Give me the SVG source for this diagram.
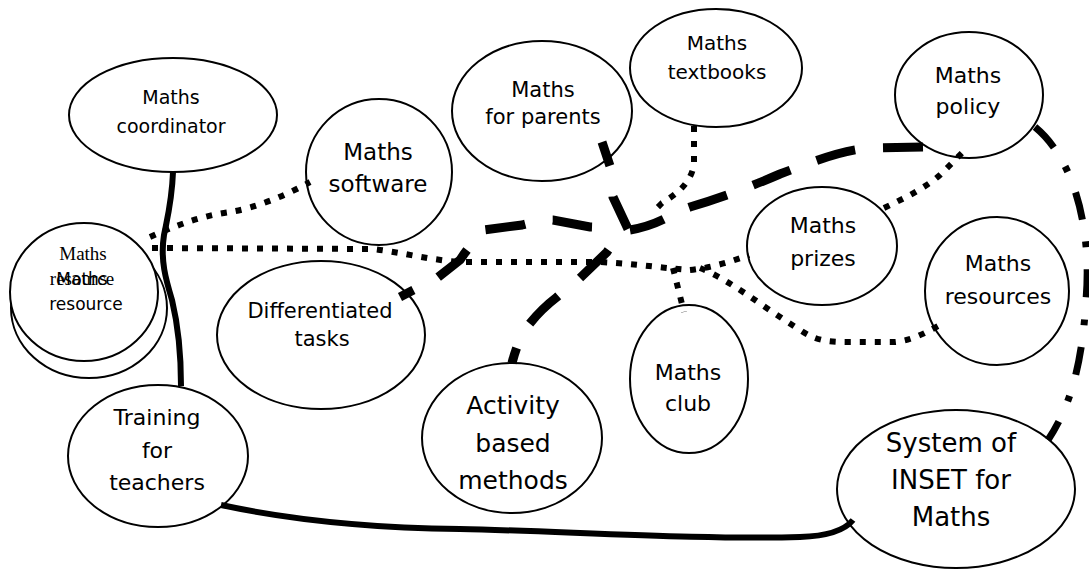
<svg xmlns="http://www.w3.org/2000/svg" width="1089" height="571" viewBox="0 0 1089 571">
<style>
.n{fill:#fff;stroke:#000;stroke-width:2}
.t{font-family:"DejaVu Sans","Noto Sans",sans-serif;text-anchor:middle;fill:#000}
.s{font-family:"Liberation Serif","DejaVu Serif",serif;text-anchor:middle;fill:#000}
.c{fill:none;stroke:#000}
.solid{stroke-width:6}
.dot{stroke-width:6;stroke-dasharray:6 9}
.dash{stroke-width:9;stroke-dasharray:40 28}
.dd{stroke-width:7;stroke-dasharray:28 22 6 22}
</style>
<rect width="1089" height="571" fill="#fff"/>
<g id="resource-stack">
<ellipse class="n" cx="89" cy="308" rx="78" ry="70"/>
<ellipse class="n" cx="84" cy="292" rx="74" ry="69"/>
<text class="s" x="83" y="260" font-size="19">Maths</text>
<text class="s" x="82" y="285" font-size="19">resource</text>
<text class="t" x="82" y="285" font-size="17">Maths</text>
<text class="t" x="86" y="310" font-size="17">resource</text>
</g>
<g id="coordinator">
<ellipse class="n" cx="173" cy="115" rx="104" ry="57"/>
<text class="t" x="171" y="104" font-size="19">Maths</text>
<text class="t" x="171" y="133" font-size="19">coordinator</text>
</g>
<g id="software">
<ellipse class="n" cx="379" cy="172" rx="73" ry="73"/>
<text class="t" x="378" y="160" font-size="23">Maths</text>
<text class="t" x="378" y="192" font-size="23">software</text>
</g>
<g id="parents">
<ellipse class="n" cx="542" cy="111" rx="90" ry="70"/>
<text class="t" x="543" y="97" font-size="21">Maths</text>
<text class="t" x="543" y="124" font-size="21">for parents</text>
</g>
<g id="textbooks">
<ellipse class="n" cx="716" cy="68" rx="86" ry="59"/>
<text class="t" x="717" y="50" font-size="20">Maths</text>
<text class="t" x="717" y="79" font-size="20">textbooks</text>
</g>
<g id="policy">
<ellipse class="n" cx="969" cy="95" rx="74" ry="63"/>
<text class="t" x="968" y="83" font-size="22">Maths</text>
<text class="t" x="968" y="114" font-size="22">policy</text>
</g>
<g id="prizes">
<ellipse class="n" cx="822" cy="246" rx="75" ry="59"/>
<text class="t" x="823" y="233" font-size="22">Maths</text>
<text class="t" x="823" y="266" font-size="22">prizes</text>
</g>
<g id="resources">
<ellipse class="n" cx="997" cy="291" rx="72" ry="74"/>
<text class="t" x="998" y="271" font-size="22">Maths</text>
<text class="t" x="998" y="304" font-size="22">resources</text>
</g>
<g id="differentiated">
<ellipse class="n" cx="321" cy="335" rx="104" ry="74"/>
<text class="t" x="320" y="318" font-size="21">Differentiated</text>
<text class="t" x="322" y="346" font-size="21">tasks</text>
</g>
<g id="club">
<ellipse class="n" cx="689" cy="379" rx="59" ry="74"/>
<text class="t" x="688" y="380" font-size="22">Maths</text>
<text class="t" x="688" y="411" font-size="22">club</text>
</g>
<g id="activity">
<ellipse class="n" cx="512" cy="438" rx="90" ry="75"/>
<text class="t" x="513" y="414" font-size="25">Activity</text>
<text class="t" x="513" y="452" font-size="25">based</text>
<text class="t" x="513" y="489" font-size="25">methods</text>
</g>
<g id="training">
<ellipse class="n" cx="158" cy="456" rx="90" ry="71"/>
<text class="t" x="157" y="425" font-size="22">Training</text>
<text class="t" x="157" y="458" font-size="22">for</text>
<text class="t" x="157" y="490" font-size="22">teachers</text>
</g>
<g id="inset">
<ellipse class="n" cx="956" cy="489" rx="119" ry="79"/>
<text class="t" x="951" y="452" font-size="26">System of</text>
<text class="t" x="951" y="489" font-size="26">INSET for</text>
<text class="t" x="951" y="526" font-size="26">Maths</text>
</g>
<g id="connectors">
<path class="c solid" d="M173,172 C172,200 168,215 164,235 C160,260 166,280 172,300 C178,325 181,350 181,386"/>
<path class="c solid" d="M221,505 C300,522 380,528 460,529 C560,531 700,540 800,537 C830,536 845,530 853,520"/>
<path class="c dot" d="M150,237 C175,226 200,216 230,212 C255,208 285,196 310,182"/>
<path class="c dot" d="M152,248 L373,249 C400,252 430,260 460,262 L600,262 C640,264 660,268 690,270"/>
<path class="c dot" d="M673,268 L684,312"/>
<path class="c dot" d="M690,270 C710,268 730,262 749,255"/>
<path class="c dot" d="M700,268 C730,280 760,305 800,330 C815,340 825,342 850,342 L895,342 C915,340 930,330 940,325"/>
<path class="c dot" d="M884,208 C905,198 925,188 940,175 L967,148"/>
<path class="c dot" d="M694,126 L694,165 C690,185 675,195 662,203 L652,213"/>
<path class="c dash" d="M923,147 L870,148 C840,150 810,163 780,174 C750,187 720,198 690,207 C670,214 660,225 630,230"/>
<path class="c dash" style="stroke-dashoffset:40" d="M628,230 Q615,240 607,252 L578,280 Q565,290 557,297 Q540,310 527,327 Q518,340 512,363"/>
<path class="c dash" style="stroke-dasharray:25 31 40 100" d="M602,142 L610,166 Q612,182 613,197 L628,229"/>
<path class="c dash" style="stroke-dashoffset:40" d="M620,228 L590,227 L553,220 Q540,220 522,225 L483,230 Q470,245 460,260 L437,278 L400,297"/>
<path class="c dd" d="M1035,127 C1075,160 1092,230 1086,300 C1082,370 1068,410 1048,440"/>
</g>
</svg>
